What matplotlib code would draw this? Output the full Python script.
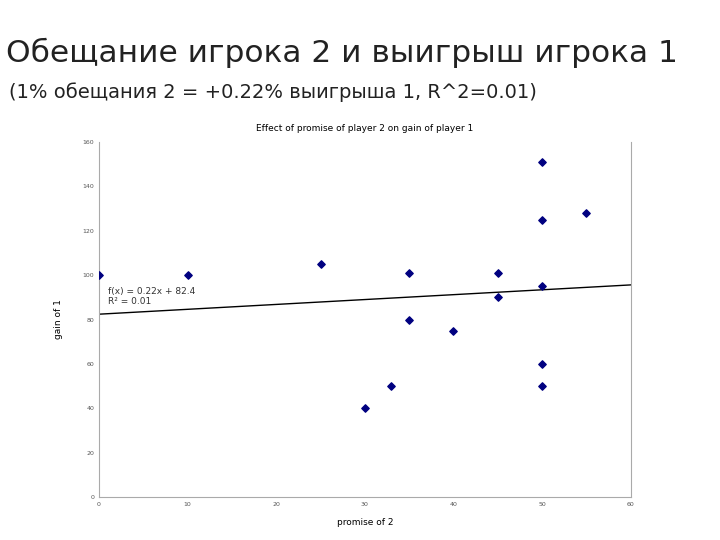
import matplotlib
matplotlib.use("Agg")
import matplotlib.pyplot as plt
import numpy as np

promise = [0, 10, 25, 35, 45, 45, 50, 50, 55, 50, 35, 40, 50, 50, 33, 30]
gain = [100, 100, 105, 101, 101, 90, 151, 125, 128, 95, 80, 75, 60, 50, 50, 40]
slope, intercept = 0.22, 82.4

fig = plt.figure(figsize=(7.2, 5.4), dpi=100)
fig.text(0.008, 0.885, "Обещание игрока 2 и выигрыш игрока 1", fontsize=22.5, color="#222222")
fig.text(0.012, 0.818, "(1% обещания 2 = +0.22% выигрыша 1, R^2=0.01)", fontsize=14, color="#222222")

ax = fig.add_axes([0.1375, 0.0796, 0.7385, 0.6574])
ax.scatter(promise, gain, marker="D", s=14, color="#000080", zorder=3)
xs = np.array([0, 60])
ax.plot(xs, slope * xs + intercept, color="black", lw=1)
ax.set_xlim(0, 60)
ax.set_ylim(0, 160)
ax.set_xticks(range(0, 61, 10))
ax.set_yticks(range(0, 161, 20))
ax.tick_params(labelsize=4.5, colors="#555555", length=0)
for s in ["left", "bottom", "right"]:
    ax.spines[s].set_color("#aaaaaa")
ax.spines["top"].set_visible(False)
ax.set_title("Effect of promise of player 2 on gain of player 1", fontsize=6.5, pad=8)
ax.set_xlabel("promise of 2", fontsize=6.5, labelpad=8)
ax.set_ylabel("gain of 1", fontsize=6.5, labelpad=14)
ax.text(1, 87, "f(x) = 0.22x + 82.4\nR² = 0.01", fontsize=6.5, color="#333333")
fig.savefig("out.png", dpi=100)
